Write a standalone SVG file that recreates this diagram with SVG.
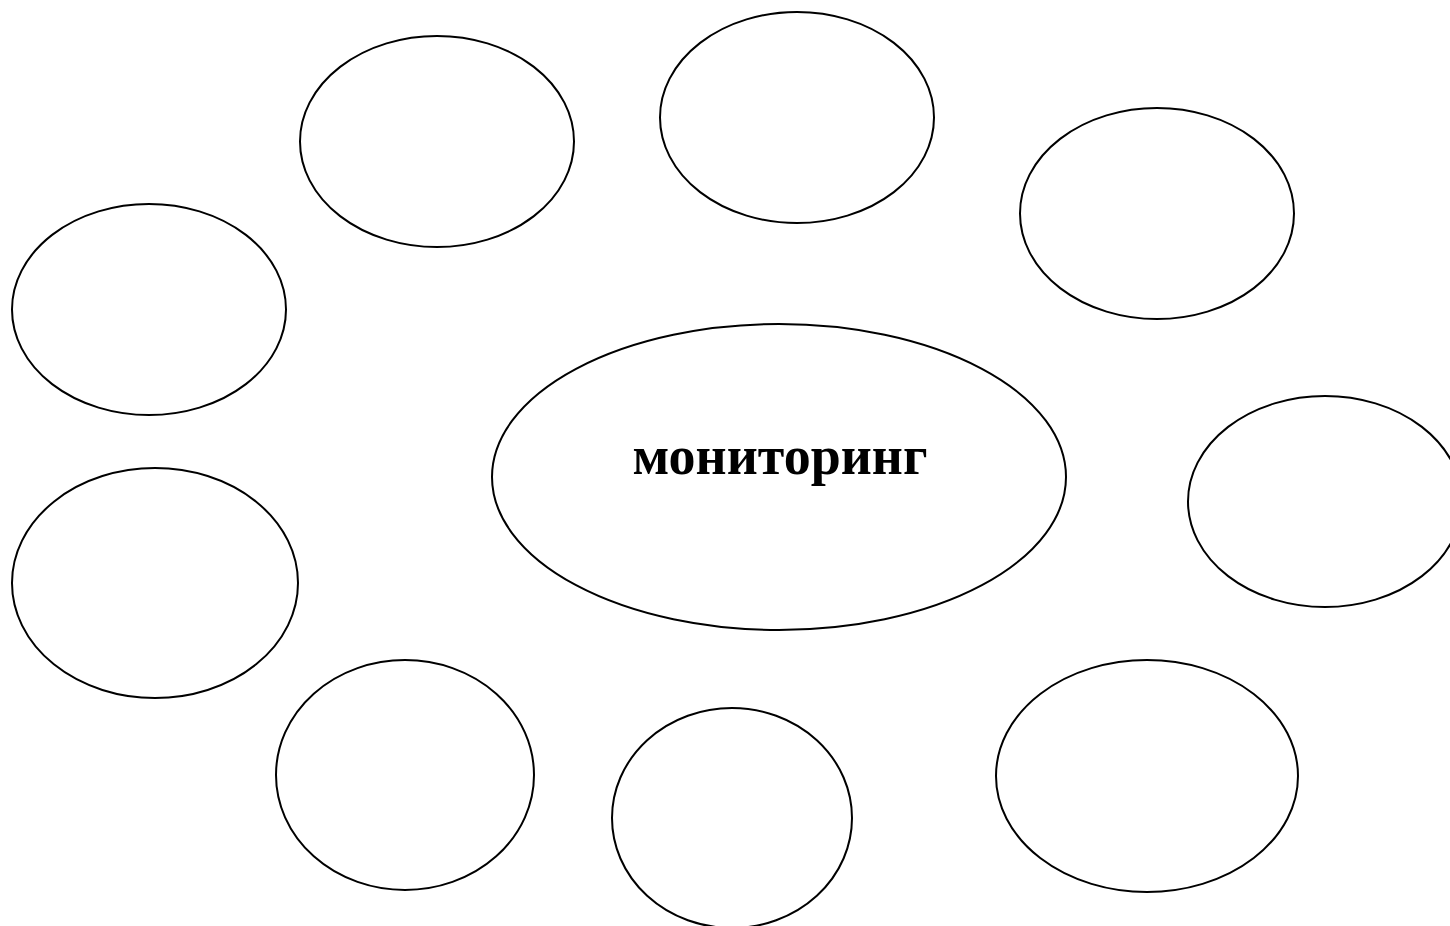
<svg xmlns="http://www.w3.org/2000/svg" width="1450" height="926" viewBox="0 0 1450 926">
<style>
.n{fill:#fff;stroke:#000;stroke-width:2}
.t{font-family:"Liberation Serif","Times New Roman",serif;font-weight:bold;font-size:54px;fill:#000}
</style>
<rect width="1450" height="926" fill="#fff"/>
<g id="connectors"></g>
<g id="node-center"><ellipse class="n" cx="779" cy="477" rx="287" ry="153"/><text class="t" x="780" y="474" text-anchor="middle">мониторинг</text></g>
<g id="node-1"><ellipse class="n" cx="437" cy="141.5" rx="137" ry="105.5"/></g>
<g id="node-2"><ellipse class="n" cx="797" cy="117.5" rx="137" ry="105.5"/></g>
<g id="node-3"><ellipse class="n" cx="1157" cy="213.5" rx="137" ry="105.5"/></g>
<g id="node-4"><ellipse class="n" cx="149" cy="309.5" rx="137" ry="105.5"/></g>
<g id="node-5"><ellipse class="n" cx="155" cy="583" rx="143" ry="115"/></g>
<g id="node-6"><ellipse class="n" cx="1325" cy="501.5" rx="137" ry="105.5"/></g>
<g id="node-7"><ellipse class="n" cx="405" cy="775" rx="129" ry="115"/></g>
<g id="node-8"><ellipse class="n" cx="732" cy="818" rx="120" ry="110"/></g>
<g id="node-9"><ellipse class="n" cx="1147" cy="776" rx="151" ry="116"/></g>
</svg>
